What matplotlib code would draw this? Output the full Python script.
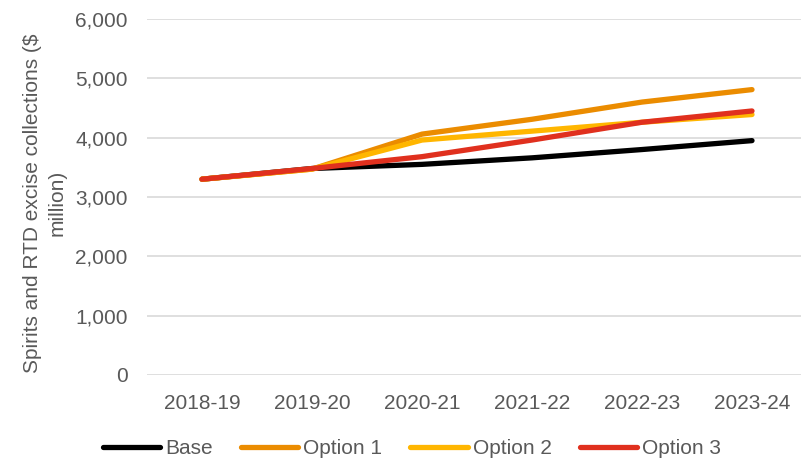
import matplotlib
matplotlib.use("Agg")
import matplotlib.pyplot as plt

years = ["2018-19", "2019-20", "2020-21", "2021-22", "2022-23", "2023-24"]
base = [3300, 3480, 3550, 3660, 3800, 3950]
option1 = [3300, 3470, 4060, 4310, 4600, 4810]
option2 = [3300, 3470, 3960, 4110, 4260, 4390]
option3 = [3300, 3480, 3680, 3960, 4260, 4450]
series_names = ["Base", "Option 1", "Option 2", "Option 3"]
colors = ["#000000", "#EB8C00", "#FFB600", "#E0301E"]
yticks = [0, 1000, 2000, 3000, 4000, 5000, 6000]

plt.rcParams['font.family'] = ['Liberation Sans', 'DejaVu Sans']
grey = "#595959"
fs = 15

fig = plt.figure(figsize=(8.01, 4.58), dpi=100)
ax = fig.add_axes([147/801, 1-375/458, 660/801, (375-19)/458])

x = list(range(len(years)))
for vals, name, c in zip([base, option1, option2, option3], series_names, colors):
    ax.plot(x, vals, color=c, lw=3.8, label=name, solid_capstyle='round', solid_joinstyle='round')

ax.set_xlim(-0.5, len(years) - 0.5)
ax.set_ylim(0, 6000)
ax.set_yticks(yticks)
ax.set_yticklabels([f"{v:,}" for v in yticks])
ax.set_xticks(x)
ax.set_xticklabels(years)
ax.tick_params(axis='both', length=0, labelsize=fs, colors=grey)
ax.tick_params(axis='y', pad=14)
ax.tick_params(axis='x', pad=14)
ax.grid(axis='y', color="#d9d9d9", lw=1.2)
ax.set_axisbelow(True)
for s in ax.spines.values():
    s.set_visible(False)

fig.text(45/801, 1-203/458, "Spirits and RTD excise collections (\\$\nmillion)", fontsize=fs,
         color=grey, rotation=90, ha='center', va='center', multialignment='center', linespacing=1.35)

leg = fig.legend(loc='center', bbox_to_anchor=(412/801, 1-449/458), ncol=4, frameon=False,
                 fontsize=fs, handlelength=2.74, handletextpad=0.24, columnspacing=1.35)
for t in leg.get_texts():
    t.set_color(grey)

fig.savefig("out.png", dpi=100)
